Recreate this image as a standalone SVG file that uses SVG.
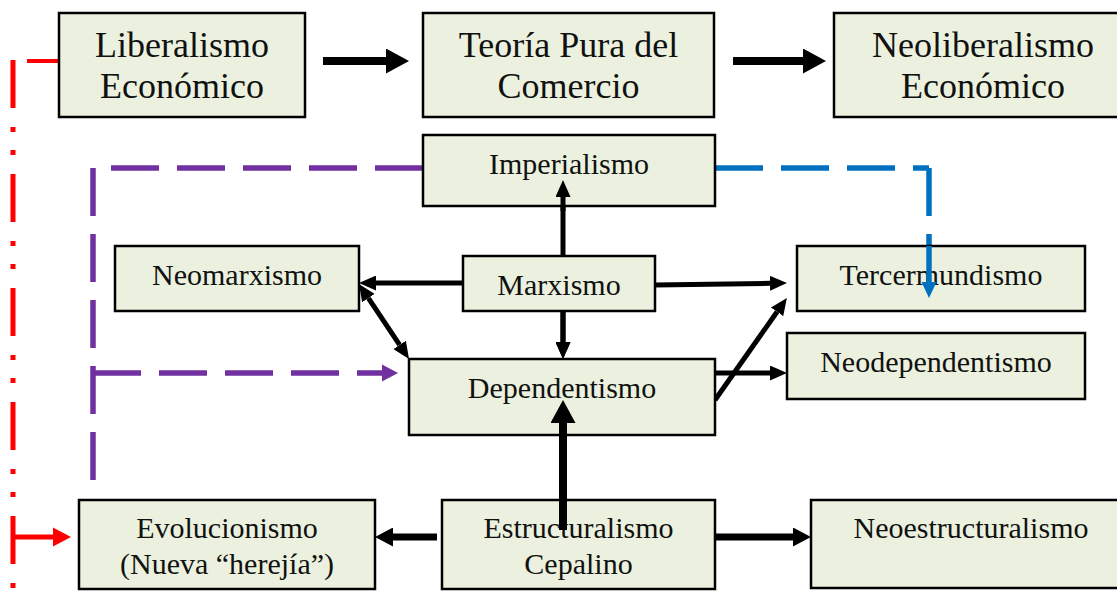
<svg xmlns="http://www.w3.org/2000/svg" width="1117" height="599" viewBox="0 0 1117 599">
<style>
.box{fill:#EBF1DE;stroke:#000;stroke-width:2.5}
.t{font-family:"Liberation Serif","Times New Roman",serif;fill:#111;text-anchor:middle}
.big{font-size:36px}
.mid{font-size:30px}
.k{stroke:#000;fill:none}
.pd{stroke:#7030A0;stroke-width:5.5;fill:none;stroke-dasharray:48 18}
.bd{stroke:#0070C0;stroke-width:5.5;fill:none;stroke-dasharray:48 18}
.rd{stroke:#FF0000;fill:none}
</style>
<defs>
<marker id="hs" markerUnits="userSpaceOnUse" markerWidth="17" markerHeight="15" refX="0" refY="7.5" orient="auto-start-reverse"><path d="M0,0 L17,7.5 L0,15 z" fill="#000"/></marker>
<marker id="hb" markerUnits="userSpaceOnUse" markerWidth="23" markerHeight="25" refX="0" refY="12.5" orient="auto"><path d="M0,0 L23,12.5 L0,25 z" fill="#000"/></marker>
<marker id="hm" markerUnits="userSpaceOnUse" markerWidth="18" markerHeight="19" refX="0" refY="9.5" orient="auto"><path d="M0,0 L18,9.5 L0,19 z" fill="#000"/></marker>
</defs>
<rect width="1117" height="599" fill="#fff"/>

<g id="connectors">
  <!-- top thick arrows -->
  <line class="k" x1="323" y1="61" x2="386" y2="61" stroke-width="8" marker-end="url(#hb)"/>
  <line class="k" x1="733" y1="61" x2="803" y2="61" stroke-width="8" marker-end="url(#hb)"/>
  <!-- Marxismo connections -->
  <line class="k" x1="563" y1="272" x2="563" y2="197" stroke-width="5" marker-end="url(#hs)"/>
  <line class="k" x1="563" y1="298" x2="563" y2="342" stroke-width="5" marker-end="url(#hs)"/>
  <line class="k" x1="463" y1="283" x2="376" y2="283" stroke-width="5" marker-end="url(#hs)"/>
  <line class="k" x1="655" y1="285" x2="770" y2="283.3" stroke-width="5" marker-end="url(#hs)"/>
  <!-- Neomarxismo <-> Dependentismo -->
  <line class="k" x1="368.4" y1="298.1" x2="399.6" y2="344.9" stroke-width="5" marker-start="url(#hs)" marker-end="url(#hs)"/>
  <!-- Dependentismo outputs -->
  <line class="k" x1="715" y1="373" x2="770" y2="373" stroke-width="5" marker-end="url(#hs)"/>
  <line class="k" x1="715" y1="400" x2="777.1" y2="311.8" stroke-width="5" marker-end="url(#hs)"/>
  <!-- Estructuralismo outputs -->
  <line class="k" x1="563" y1="524" x2="563" y2="423" stroke-width="8" marker-end="url(#hb)"/>
  <line class="k" x1="437" y1="537" x2="393" y2="537" stroke-width="7" marker-end="url(#hm)"/>
  <line class="k" x1="715" y1="537" x2="793" y2="537" stroke-width="7" marker-end="url(#hm)"/>
  <!-- purple dashed -->
  <path class="pd" d="M423,168 H93 V480"/>
  <path class="pd" d="M93,373 H382"/>
  <polygon points="382,364.5 398,373 382,381.5" fill="#7030A0"/>
  <!-- blue dashed -->
  <path class="bd" d="M715,168 H929"/>
  <path class="bd" d="M929,168 V282"/>
  <polygon points="921.5,282 929,298 936.5,282" fill="#0070C0"/>
  <!-- red dash-dot-dot -->
  <line class="rd" x1="27" y1="61" x2="59" y2="61" stroke-width="4"/>
  <path class="rd" stroke-width="5" d="M13,60V108 M13,127V132 M13,150V155 M13,174V222 M13,241V246 M13,264V269 M13,288V336 M13,355V360 M13,378V383 M13,402V450 M13,469V474 M13,492V497 M13,516V564 M13,583V588"/>
  <line class="rd" x1="13" y1="537" x2="54" y2="537" stroke-width="5"/>
  <polygon points="53,527.5 71,537 53,546.5" fill="#FF0000"/>
</g>

<g id="liberalismo"><rect class="box" x="59" y="13" width="246" height="104"/><text class="t big" x="182" y="57">Liberalismo</text><text class="t big" x="182" y="98">Económico</text></g>
<g id="teoria"><rect class="box" x="423" y="13" width="291" height="104"/><text class="t big" x="568.5" y="57">Teoría Pura del</text><text class="t big" x="568.5" y="98">Comercio</text></g>
<g id="neoliberalismo"><rect class="box" x="834" y="13" width="298" height="104"/><text class="t big" x="983" y="57">Neoliberalismo</text><text class="t big" x="983" y="98">Económico</text></g>
<g id="imperialismo"><rect class="box" x="423" y="135" width="292" height="71"/><text class="t mid" x="569" y="174">Imperialismo</text></g>
<g id="neomarxismo"><rect class="box" x="115" y="246" width="244" height="65"/><text class="t mid" x="237" y="285">Neomarxismo</text></g>
<g id="marxismo"><rect class="box" x="463" y="256" width="192" height="55"/><text class="t mid" x="559" y="295">Marxismo</text></g>
<g id="tercermundismo"><rect class="box" x="797" y="246" width="288" height="65"/><text class="t mid" x="941" y="285">Tercermundismo</text></g>
<g id="neodependentismo"><rect class="box" x="787" y="333" width="298" height="66"/><text class="t mid" x="936" y="372">Neodependentismo</text></g>
<g id="dependentismo"><rect class="box" x="409" y="359" width="306" height="76"/><text class="t mid" x="562" y="398">Dependentismo</text></g>
<g id="evolucionismo"><rect class="box" x="79" y="500" width="296" height="89"/><text class="t mid" x="227" y="538">Evolucionismo</text><text class="t mid" x="227" y="574">(Nueva “herejía”)</text></g>
<g id="estructuralismo"><rect class="box" x="442" y="500" width="273" height="89"/><text class="t mid" x="578.5" y="538">Estructuralismo</text><text class="t mid" x="578.5" y="574">Cepalino</text></g>
<g id="neoestructuralismo"><rect class="box" x="811" y="500" width="320" height="88"/><text class="t mid" x="971" y="538">Neoestructuralismo</text></g>

<g id="connectors-over">
  <line class="k" x1="563" y1="211" x2="563" y2="197" stroke-width="5" marker-end="url(#hs)"/>
  <line class="k" x1="563" y1="311" x2="563" y2="342" stroke-width="5" marker-end="url(#hs)"/>
  <line class="k" x1="563" y1="530" x2="563" y2="423" stroke-width="8" marker-end="url(#hb)"/>
  <line x1="929" y1="246" x2="929" y2="282" stroke="#0070C0" stroke-width="5.5"/>
  <polygon points="921.5,282 929,298 936.5,282" fill="#0070C0"/>
</g>
</svg>
